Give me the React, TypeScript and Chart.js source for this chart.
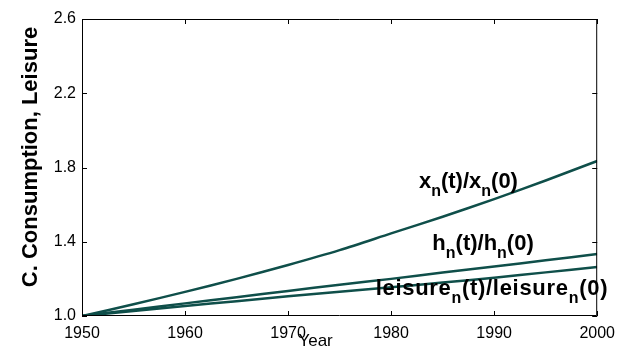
import React, { useEffect, useRef } from "react";
import { Chart, registerables } from "chart.js";

Chart.register(...registerables);

const years = [1950, 1955, 1960, 1965, 1970, 1975, 1980, 1985, 1990, 1995, 2000];
const xSeries = [1.0, 1.063, 1.13, 1.2, 1.275, 1.355, 1.445, 1.535, 1.63, 1.73, 1.835];
const hSeries = [1.0, 1.034, 1.068, 1.101, 1.135, 1.168, 1.2, 1.234, 1.267, 1.3, 1.334];
const leisureSeries = [1.0, 1.027, 1.054, 1.08, 1.106, 1.13, 1.155, 1.18, 1.206, 1.235, 1.264];
const xTickValues = [1950, 1960, 1970, 1980, 1990, 2000];
const yTickValues = [1.0, 1.4, 1.8, 2.2, 2.6];
const yTitle = "C. Consumption, Leisure";
const xTitle = "Year";

type Seg = { t: string; sub?: boolean };
const curveLabels: { year: number; value: number; spacing: number; segs: Seg[] }[] = [
  { year: 1982.7, value: 1.69, spacing: 0, segs: [{ t: "x" }, { t: "n", sub: true }, { t: "(t)/x" }, { t: "n", sub: true }, { t: "(0)" }] },
  { year: 1984.0, value: 1.356, spacing: 0, segs: [{ t: "h" }, { t: "n", sub: true }, { t: "(t)/h" }, { t: "n", sub: true }, { t: "(0)" }] },
  { year: 1978.5, value: 1.113, spacing: 0.7, segs: [{ t: "leisure" }, { t: "n", sub: true }, { t: "(t)/leisure" }, { t: "n", sub: true }, { t: "(0)" }] },
];

const LINE_COLOR = "#0f4f4a";
const FONT = "Liberation Sans, Arial, Helvetica, sans-serif";

const framePlugin = {
  id: "frame",
  afterDraw(chart: any) {
    const { ctx, chartArea } = chart;
    const { left, right, top, bottom } = chartArea;
    const xs = chart.scales.x;
    const ys = chart.scales.y;
    ctx.save();
    ctx.strokeStyle = "#000";
    ctx.lineWidth = 1;
    ctx.beginPath();
    ctx.rect(left + 0.5, top + 0.5, right - left - 1, bottom - top - 1);
    ctx.stroke();
    const tl = 5;
    ctx.beginPath();
    xTickValues.forEach((v) => {
      const px = Math.round(xs.getPixelForValue(v)) + 0.5;
      ctx.moveTo(px, bottom);
      ctx.lineTo(px, bottom - tl);
      ctx.moveTo(px, top);
      ctx.lineTo(px, top + tl);
    });
    yTickValues.forEach((v) => {
      const py = Math.round(ys.getPixelForValue(v)) + 0.5;
      ctx.moveTo(left, py);
      ctx.lineTo(left + tl, py);
      ctx.moveTo(right, py);
      ctx.lineTo(right - tl, py);
    });
    ctx.stroke();

    // curve labels
    ctx.fillStyle = "#000";
    ctx.textBaseline = "alphabetic";
    ctx.textAlign = "left";
    curveLabels.forEach((lab) => {
      let x = xs.getPixelForValue(lab.year);
      const y = ys.getPixelForValue(lab.value);
      ctx.letterSpacing = `${lab.spacing}px`;
      lab.segs.forEach((s) => {
        ctx.font = s.sub ? `bold 16px ${FONT}` : `bold 22px ${FONT}`;
        ctx.fillText(s.t, x, s.sub ? y + 8 : y);
        x += ctx.measureText(s.t).width;
      });
      ctx.letterSpacing = "0px";
    });

    // axis titles
    ctx.font = `bold 22px ${FONT}`;
    ctx.textAlign = "center";
    ctx.textBaseline = "middle";
    ctx.save();
    ctx.translate(31, 157);
    ctx.rotate(-Math.PI / 2);
    ctx.fillText(yTitle, 0, 0);
    ctx.restore();
    ctx.font = `17px ${FONT}`;
    ctx.fillText(xTitle, (left + right) / 2 - 24, 341);
    ctx.restore();
  },
};

export default function App() {
  const ref = useRef<HTMLCanvasElement>(null);
  useEffect(() => {
    if (!ref.current) return;
    const mk = (label: string, data: number[]) => ({
      label,
      data: years.map((y, i) => ({ x: y, y: data[i] })),
      borderColor: LINE_COLOR,
      borderWidth: 2.5,
      pointRadius: 0,
      tension: 0.3,
      fill: false,
    });
    const chart = new Chart(ref.current, {
      type: "line",
      data: {
        datasets: [
          mk("x", xSeries),
          mk("h", hSeries),
          mk("leisure", leisureSeries),
        ],
      },
      options: {
        responsive: false,
        animation: false,
        layout: { padding: { top: 19, right: 22, left: 0, bottom: 0 } },
        plugins: { legend: { display: false }, tooltip: { enabled: false } },
        scales: {
          x: {
            type: "linear",
            min: 1950,
            max: 2000,
            grid: { display: false, drawTicks: false },
            border: { display: false },
            afterFit: (s: any) => { s.height = 37; },
            afterBuildTicks: (s: any) => { s.ticks = xTickValues.map((v) => ({ value: v })); },
            ticks: {
              color: "#000",
              padding: 8,
              maxRotation: 0,
              font: { family: FONT, size: 16 },
              callback: (v: any) => String(v),
            },
          },
          y: {
            type: "linear",
            min: 1.0,
            max: 2.6,
            grid: { display: false, drawTicks: false },
            border: { display: false },
            afterFit: (s: any) => { s.width = 82; },
            afterBuildTicks: (s: any) => { s.ticks = yTickValues.map((v) => ({ value: v })); },
            ticks: {
              color: "#000",
              padding: 6,
              font: { family: FONT, size: 16 },
              callback: (v: any) => Number(v).toFixed(1),
            },
          },
        },
      },
      plugins: [framePlugin],
    });
    return () => chart.destroy();
  }, []);
  return (
    <div style={{ position: "absolute", left: 0, top: 0, width: 623, height: 353, background: "#fff" }}>
      <canvas ref={ref} width={623} height={353} />
    </div>
  );
}
